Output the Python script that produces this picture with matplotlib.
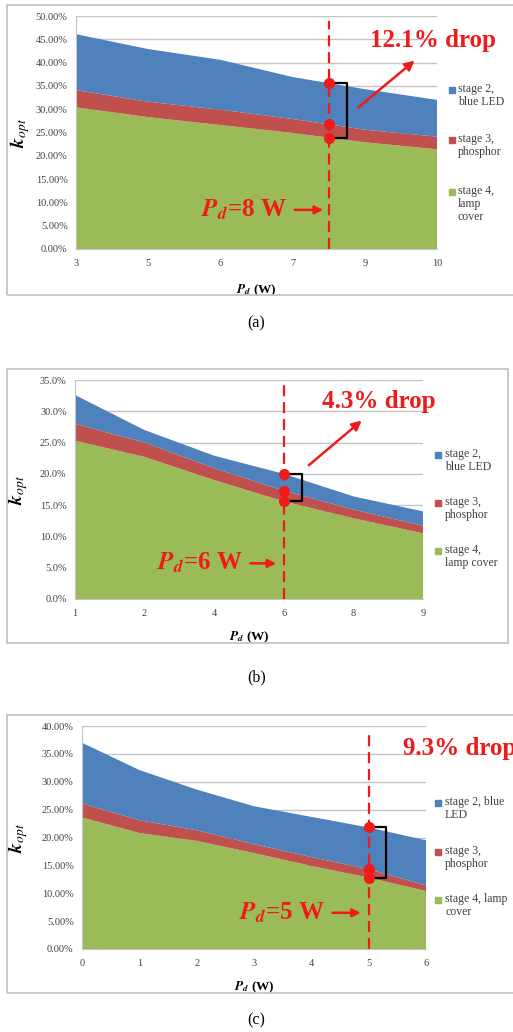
import numpy as np
import matplotlib.pyplot as plt
from matplotlib.patches import Rectangle
from matplotlib.ticker import FuncFormatter

plt.rcParams['font.family'] = ['Liberation Serif', 'DejaVu Sans']
plt.rcParams['mathtext.fontset'] = 'stix'

# colours of the three stages
BLUE = '#4F81BD'
RED_FILL = '#C0504D'
GREEN = '#9BBB59'
MARK = '#F01A1A'

legend_a = ['stage 2,\nblue LED', 'stage 3,\nphosphor', 'stage 4,\nlamp\ncover']
legend_b = ['stage 2,\nblue LED', 'stage 3,\nphosphor', 'stage 4,\nlamp cover']
legend_c = ['stage 2, blue\nLED', 'stage 3,\nphosphor', 'stage 4, lamp\ncover']

# (a) categorical x axis
labels_a = ['3', '5', '6', '7', '9', '10']
stage4_a = [30.4, 28.3, 26.6, 24.9, 22.9, 21.4]
stage3_a = [3.7, 3.3, 3.3, 3.0, 2.7, 2.7]
stage2_a = [12.0, 11.3, 10.7, 9.0, 8.7, 7.9]

# (b) categorical x axis
labels_b = ['1', '2', '4', '6', '8', '9']
stage4_b = [25.3, 22.7, 19.0, 15.6, 12.9, 10.5]
stage3_b = [2.7, 2.3, 1.9, 1.7, 1.4, 1.2]
stage2_b = [4.6, 2.0, 2.0, 2.7, 2.1, 2.3]

# (c) numeric x axis
pd_c = [0, 1, 2, 3, 4, 5, 6]
stage4_c = [23.6, 20.8, 19.4, 17.2, 14.9, 12.8, 10.4]
stage3_c = [2.5, 2.3, 1.9, 1.6, 1.6, 1.5, 1.0]
stage2_c = [10.9, 9.0, 7.3, 6.8, 7.2, 7.5, 8.1]

W, H = 513, 1032
fig = plt.figure(figsize=(W / 100, H / 100), dpi=100)


def fx(px):
    return px / W


def fy(py):
    return 1 - py / H


def make_axes(l, t, r, b):
    ax = fig.add_axes([fx(l), fy(b), (r - l) / W, (b - t) / H])
    ax._px = (l, t, r, b)
    return ax


def to_axes(ax, px, py):
    l, t, r, b = ax._px
    return (px - l) / (r - l), (b - py) / (b - t)


def style(ax, ymax, decimals, xlab_y, ylab_x):
    ax.set_ylim(0, ymax)
    ax.set_yticks(np.arange(0, ymax + 0.01, 5))
    ax.yaxis.set_major_formatter(FuncFormatter(lambda v, p: f'{v:.{decimals}f}%'))
    ax.grid(axis='y', color='#c4c4c4', lw=1)
    ax.set_axisbelow(True)
    for s in ['top', 'right']:
        ax.spines[s].set_visible(False)
    for s in ['left', 'bottom']:
        ax.spines[s].set_color('#c4c4c4')
    ax.tick_params(length=0, labelsize=7.5, labelcolor='#404040')
    ax.tick_params(axis='y', pad=6)
    ax.tick_params(axis='x', pad=7)
    ax.set_xlabel(r'$\mathbfit{P}_{\mathbfit{d}}$ (W)', fontsize=9.5, fontweight='bold')
    ax.set_ylabel(r'$\mathbfit{k}_{\mathit{opt}}$', fontsize=14)
    ax.xaxis.set_label_coords(0.5, to_axes(ax, 0, xlab_y)[1])
    ax.yaxis.set_label_coords(to_axes(ax, ylab_x, 0)[0], 0.5)


def stack(ax, x, s4, s3, s2):
    ax.stackplot(x, s4, s3, s2, colors=[GREEN, RED_FILL, BLUE], lw=0)
    ax.set_xlim(x[0], x[-1])


def mark_drop(ax, x, s4, s3, s2, xm, bw, a0, a1, drop, drop_xy, drop_ha,
              pd_text, pd_xy, pd_arrow):
    tops = np.cumsum([s4, s3, s2], axis=0)
    ys = [np.interp(xm, x, row) for row in tops]
    ax.axvline(xm, ymax=0.98, color=MARK, lw=1.6, ls=(0, (5, 2.6)), zorder=3)
    ax.plot([xm] * 3, ys, 'o', color=MARK, ms=7, zorder=4, clip_on=False)
    ax.plot([xm, xm + bw, xm + bw, xm], [ys[2], ys[2], ys[0], ys[0]],
            color='black', lw=1.6, zorder=3)
    ax.annotate('', xy=a1, xytext=a0,
                arrowprops=dict(arrowstyle='-|>', color=MARK, lw=1.8, mutation_scale=14))
    ax.text(drop_xy[0], drop_xy[1], drop, color=MARK, fontsize=18, fontweight='bold',
            ha=drop_ha, va='center', zorder=5)
    ax.text(pd_xy[0], pd_xy[1], pd_text, color=MARK, fontsize=18, fontweight='bold',
            ha='right', va='center', zorder=5)
    ax.annotate('', xy=(pd_arrow[1], pd_xy[1]), xytext=(pd_arrow[0], pd_xy[1]),
                arrowprops=dict(arrowstyle='-|>', color=MARK, lw=1.8, mutation_scale=12))


def legend(sq_x, tx_x, ys, labels):
    for y, lab, c in zip(ys, labels, [BLUE, RED_FILL, GREEN]):
        fig.patches.append(Rectangle((fx(sq_x - 3), fy(y + 3)), 6 / W, 6 / H,
                                     transform=fig.transFigure, color=c))
        fig.text(fx(tx_x), fy(y - 7), lab, fontsize=8.5, color='#404040',
                 ha='left', va='top', linespacing=1.12)


def frame(l, t, r, b):
    fig.patches.append(Rectangle((fx(l), fy(b)), (r - l) / W, (b - t) / H,
                                 transform=fig.transFigure, fill=False,
                                 edgecolor='#c0c0c0', lw=1.2))


# panel (a)
frame(7, 5, 530, 295)
ax = make_axes(76, 16, 437, 249)
xa = np.arange(len(labels_a))
stack(ax, xa, stage4_a, stage3_a, stage2_a)
ax.set_xticks(xa)
ax.set_xticklabels(labels_a)
style(ax, 50, 2, 283, 32)
mark_drop(ax, xa, stage4_a, stage3_a, stage2_a, 3.5, 0.25, (3.88, 30.0), (4.72, 40.8),
          '12.1% drop', (4.94, 44.8), 'center',
          r'$\mathbfit{P}_{\mathbfit{d}}$=8 W', (2.92, 8.4), (2.99, 3.46))
legend(452, 458, [90, 140, 192], legend_a)
fig.text(0.5, fy(323), '(a)', ha='center', va='center', fontsize=11.5)

# panel (b)
frame(7, 369, 508, 643)
ax = make_axes(75, 380, 423, 599)
xb = np.arange(len(labels_b))
stack(ax, xb, stage4_b, stage3_b, stage2_b)
ax.set_xticks(xb)
ax.set_xticklabels(labels_b)
style(ax, 35, 1, 630, 30)
mark_drop(ax, xb, stage4_b, stage3_b, stage2_b, 3, 0.26, (3.33, 21.1), (4.15, 28.8),
          '4.3% drop', (4.37, 31.5), 'center',
          r'$\mathbfit{P}_{\mathbfit{d}}$=6 W', (2.41, 5.7), (2.48, 2.93))
legend(438, 445, [455, 503, 551], legend_b)
fig.text(0.5, fy(677), '(b)', ha='center', va='center', fontsize=11.5)

# panel (c)
frame(7, 715, 530, 993)
ax = make_axes(82, 726, 426, 949)
stack(ax, pd_c, stage4_c, stage3_c, stage2_c)
ax.set_xticks(pd_c)
style(ax, 40, 2, 980, 30)
mark_drop(ax, pd_c, stage4_c, stage3_c, stage2_c, 5, 0.31, (5.43, 23.9), (6.42, 32.7),
          '9.3% drop', (5.6, 35.9), 'left',
          r'$\mathbfit{P}_{\mathbfit{d}}$=5 W', (4.24, 6.5), (4.32, 4.91))
legend(438, 445, [803, 852, 900], legend_c)
fig.text(0.5, fy(1020), '(c)', ha='center', va='center', fontsize=11.5)

fig.savefig('out.png', dpi=100, facecolor='white')
